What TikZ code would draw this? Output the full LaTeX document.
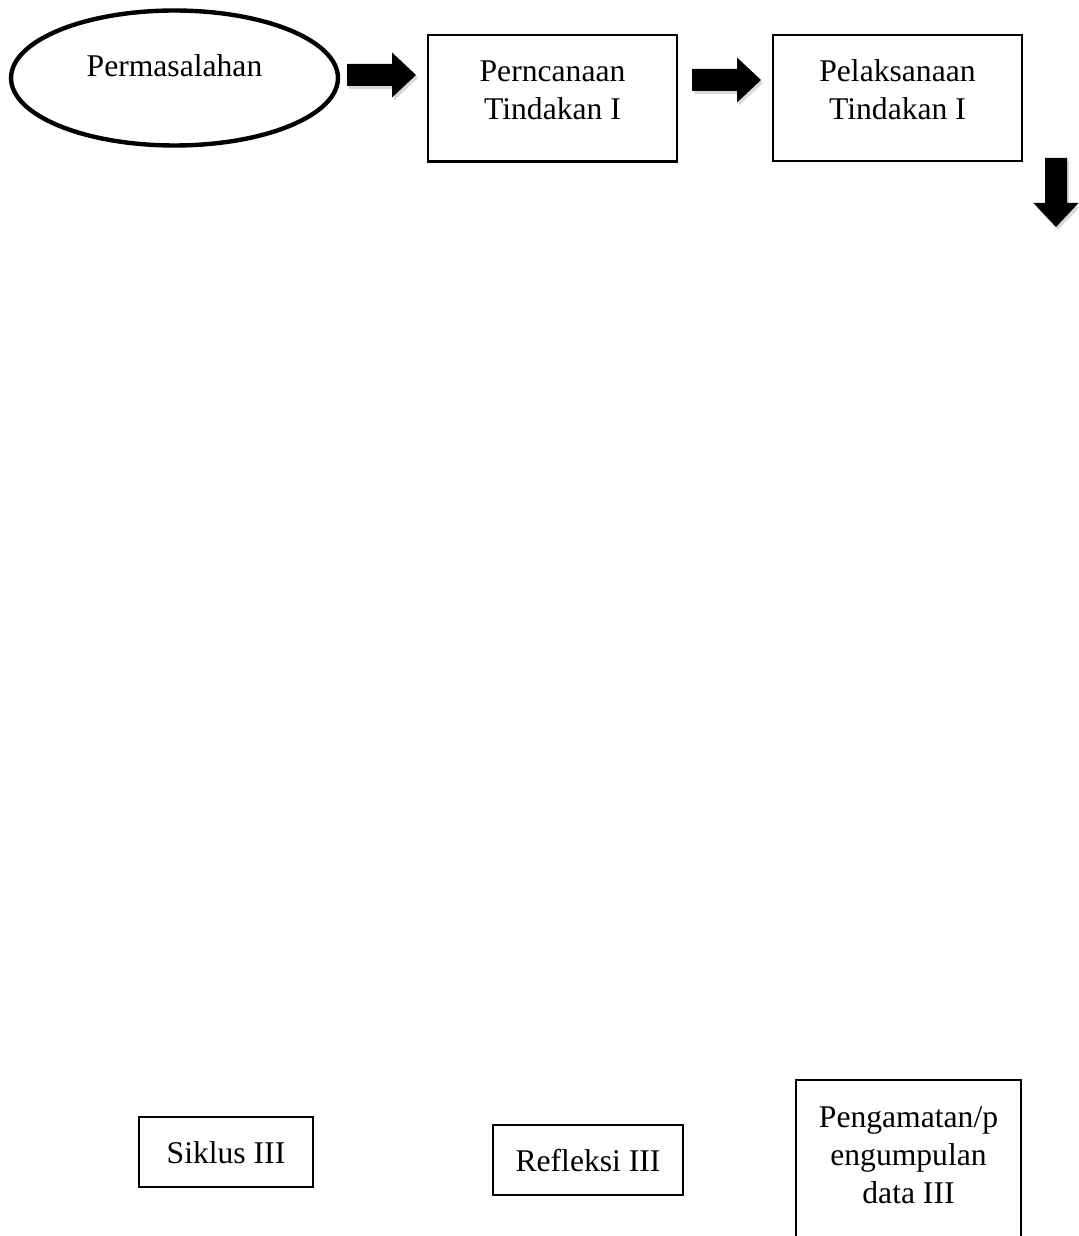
\documentclass[tikz,border=0pt]{standalone}
\usepackage{fontspec}
\setmainfont{Liberation Serif}
\usetikzlibrary{shapes.geometric}

\begin{document}
\begin{tikzpicture}[x=0.02cm, y=-0.02cm,
  flowbox/.style={draw, line width=1.2pt, align=center, font=\fontsize{18}{21.5}\selectfont, text height=13pt},
  topbox/.style={flowbox, anchor=north, inner ysep=13.5pt}]
\clip (0,0) rectangle (1078,1236);

\node[ellipse, draw, line width=2.5pt, minimum width=6.54cm, minimum height=2.7cm, inner sep=0pt,
  font=\fontsize{18}{21.5}\selectfont, text height=13pt, text depth=15pt] (perm) at (174.5,78) {Permasalahan};

% two-line boxes: height of the text counts up from the last line
\node[topbox, minimum width=4.98cm, text height=34.5pt, text depth=10.5pt] (plan) at (552.5,34) {Perncanaan\\Tindakan I};
\node[topbox, minimum width=4.98cm, text height=34.5pt, text depth=10pt] (act) at (897.5,34) {Pelaksanaan\\Tindakan I};

\node[flowbox, minimum width=3.48cm, minimum height=1.4cm] (cycle) at (226,1152) {Siklus III};
\node[flowbox, minimum width=3.8cm, minimum height=1.4cm] (refl) at (588,1160) {Refleksi III};
\node[topbox, minimum width=4.5cm, inner ysep=14.2pt, text height=56pt, text depth=150pt] (obs) at (908.5,1079) {Pengamatan/p\\engumpulan\\data III};

% block arrows
\foreach \x/\y/\r in {347/75/0, 692/80/0, 1056/158/-90} {
	\fill[black!30, opacity=.5, shift={(\x+2,\y+3)}, rotate=\r] (0,-11) -- (45,-11) -- (45,-22.5) -- (69,0) -- (45,22.5) -- (45,11) -- (0,11) -- cycle;
	\fill[black, shift={(\x,\y)}, rotate=\r] (0,-11) -- (45,-11) -- (45,-22.5) -- (69,0) -- (45,22.5) -- (45,11) -- (0,11) -- cycle;
}

\end{tikzpicture}
\end{document}
